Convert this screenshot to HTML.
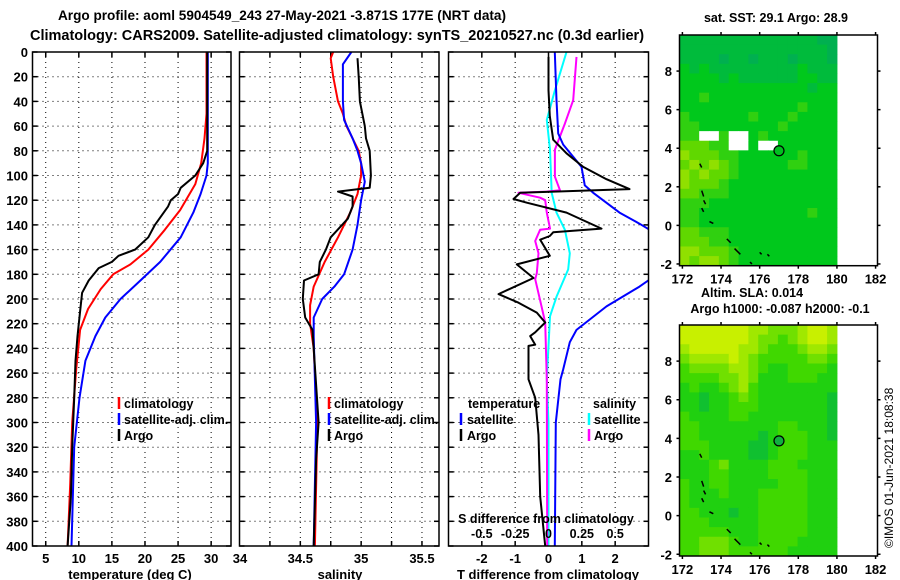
<!DOCTYPE html>
<html><head><meta charset="utf-8"><style>
html,body{margin:0;padding:0;background:#fff;}
svg{display:block;font-family:"Liberation Sans",sans-serif;font-weight:bold;}
</style></head><body>
<svg id="fig" width="900" height="580" viewBox="0 0 900 580" xmlns="http://www.w3.org/2000/svg">
<text x="282" y="20" font-size="13.6" text-anchor="middle">Argo profile: aoml 5904549_243 27-May-2021 -3.871S 177E (NRT data)</text>
<text x="337" y="40" font-size="14.5" text-anchor="middle">Climatology: CARS2009. Satellite-adjusted climatology: synTS_20210527.nc (0.3d earlier)</text>
<g id="p1"></g>
<g id="p2"></g>
<g id="p3"></g>
<g id="m1"></g>
<g id="m2"></g>
<text x="776" y="22" font-size="12.5" text-anchor="middle">sat. SST: 29.1 Argo: 28.9</text>
<text x="752" y="297" font-size="12.5" text-anchor="middle">Altim. SLA: 0.014</text>
<text x="780" y="313" font-size="12.5" text-anchor="middle">Argo h1000: -0.087 h2000: -0.1</text>
<text transform="translate(893,548) rotate(-90)" font-size="12" font-weight="normal">©IMOS 01-Jun-2021 18:08:38</text>
</svg>
<script>
// ---- profile data (depth m, value) ----
const depthTicks = [0,20,40,60,80,100,120,140,160,180,200,220,240,260,280,300,320,340,360,380,400];
const tempClimD = [0,20,50,70,90,107,128,144,160,172,180,192,208,225,257,300,350,400];
const tempClimV = [29.3,29.3,29.3,29.0,28.5,27.6,25.3,23.0,20.5,17.8,15.2,13.3,11.4,10.2,9.6,9.0,8.7,8.3];
const tempSatD = [0,50,90,100,115,130,150,170,185,200,215,230,250,280,320,400];
const tempSatV = [29.5,29.5,29.5,29.3,28.4,27.3,25.4,22.3,19.3,16.3,14.0,12.5,11.0,10.1,9.3,8.9];
const tempArgoD = [0,80,90,100,110,115,120,125,140,150,160,165,170,175,185,195,210,230,250,280,320,360,400];
const tempArgoV = [29.4,29.4,28.8,27.6,25.4,25.0,23.9,23.5,21.5,20.5,18.5,16.0,15.0,13.0,11.5,10.5,10.2,9.8,9.5,9.3,9.0,8.8,8.3];
const salClimD = [0,5,20,40,50,60,80,90,100,115,130,150,170,190,205,220,240,300,400];
const salClimV = [34.77,34.75,34.77,34.81,34.85,34.88,34.98,35.0,35.0,34.97,34.91,34.81,34.70,34.61,34.58,34.58,34.61,34.64,34.62];
const salSatD = [0,10,20,40,55,70,80,90,105,120,140,160,180,190,200,215,230,300,400];
const salSatV = [34.92,34.85,34.85,34.85,34.86,34.93,34.97,35.0,35.03,35.0,34.97,34.93,34.86,34.78,34.68,34.61,34.61,34.63,34.61];
const salArgoD = [5,20,40,60,70,80,100,110,113,117,125,135,150,160,170,180,185,200,215,225,240,300,330,400];
const salArgoV = [34.97,34.98,34.99,35.03,35.04,35.07,35.08,35.07,34.81,34.93,34.93,34.89,34.75,34.71,34.66,34.65,34.53,34.52,34.54,34.6,34.61,34.65,34.63,34.61];
const dTArgoD = [4,31,52,71,82,93,103,111,114,119,122,130,143,146,149,152,165,172,183,196,203,211,219,227,230,237,238,265,280,310,360,400];
const dTArgoV = [0,0,0.04,0.14,0.54,1.04,1.74,2.43,-0.85,-1.05,-0.65,0.54,1.59,0.14,0.04,-0.25,0.04,-0.95,-0.45,-1.5,-0.9,-0.35,-0.1,-0.4,-0.55,-0.4,-0.6,-0.6,-0.4,-0.3,-0.25,-0.1];
const dTSatD = [0,39,66,75,93,108,114,130,139,145,183,190,206,225,235,257,265,300,400];
const dTSatV = [0.19,0.24,0.29,0.44,0.99,1.09,1.34,2.13,2.73,3.1,3.1,2.73,1.74,0.84,0.64,0.44,0.36,0.22,0.19];
const dSSatD = [0,31,55,79,114,130,144,163,176,198,214,265,300,400];
const dSSatV = [0.135,0.048,-0.013,0.011,0.024,0.06,0.123,0.16,0.148,0.061,0.011,-0.013,0,0];
const dSArgoD = [4,39,58,79,101,112,113,114,118,120,130,143,144,153,163,179,184,201,219,265,400];
const dSArgoV = [0.21,0.185,0.123,0.048,0.048,0.086,-0.013,-0.225,-0.063,-0.025,-0.013,0.011,-0.063,-0.1,-0.075,-0.088,-0.1,-0.063,-0.025,-0.013,-0.01];
const tempTicks = [5,10,15,20,25,30];
const salTicks = [34.25,34.5,34.75,35,35.25,35.5];
const salLabels = [34.5,35,35.5];
const dTTicks = [-2,-1,0,1,2];
const dSLabels = ["-0.5","-0.25","0","0.25","0.5"];
const dSLabelVals = [-0.5,-0.25,0,0.25,0.5];
// ---- map data ----
const mapLats = [8,6,4,2,0,-2];
const mapLons = [172,174,176,178,180,182];
const argoLon = 177.0, argoLat = 3.87;
const sstRows = [
"1111111111111100","1111111111111110","1111011011101110","2121111111112111",
"2222121111112211","2222222222222122","2232222222222222","2222222222223222",
"3222222322232222","3322222222322222","33WW3WW232222222","44433WW2WW222222",
"5444332222223222","4545432222233222","5454432222222222","5444322222222222",
"4433322222222222","3332222222222222","3322222222222322","3322222222222222",
"4433322222222222","4443322222222222","5544432222222222","5455432222222222"];
const slaRows = [
"5555555443334554","5555555433234554","4555554432223443","3444454322222332",
"2333344321122221","2222334311122211","1211234211111111","1101123211111110",
"1101122211111110","2111122111111110","2211111111221110","2211111101222110",
"2221111001222111","1121111001222111","1112311112221111","1112211112222111",
"2112211111222111","2111211122222111","2111111122222111","2211101122222111",
"2221111122222111","2222211122222111","2233321122221111","2233322222211111"];
const coastLon = [[172.9,173.0],[173.0,173.1],[173.1,173.2],[173.0,173.1],[173.4,173.6],[174.3,174.5],[174.7,175.0],[175.5,175.6],[176.0,176.1],[176.4,176.5]];
const coastLat = [[3.2,3.0],[1.8,1.5],[1.3,1.1],[0.9,0.7],[0.2,0.1],[-0.7,-0.9],[-1.2,-1.5],[-1.9,-2.0],[-1.4,-1.5],[-1.5,-1.6]];

const NS="http://www.w3.org/2000/svg";
function mk(parent,tag,attrs,txt){const e=document.createElementNS(NS,tag);for(const k in attrs)e.setAttribute(k,attrs[k]);if(txt!==undefined)e.textContent=txt;parent.appendChild(e);return e;}
const Y0=52,Y1=546;
function yD(d){return Y0+d*(Y1-Y0)/400;}

function panel(g,x0,x1,vmin,vmax,name,yLabels){
  const xs=v=>x0+(v-vmin)*(x1-x0)/(vmax-vmin);
  depthTicks.forEach(d=>{
    const y=yD(d);
    if(d>0&&d<400){const l=mk(g,'line',{x1:x0,x2:x1,y1:y,y2:y,stroke:'#000','stroke-width':1,'stroke-dasharray':'1,4'});
    
    }
    const t1=mk(g,'line',{x1:x0,x2:x0+5,y1:y,y2:y,stroke:'#000','stroke-width':1.5});
    
    
    const t2=mk(g,'line',{x1:x1-5,x2:x1,y1:y,y2:y,stroke:'#000','stroke-width':1.5});
    
    
    if(yLabels){const tx=mk(g,'text',{x:28,y:y+5,'font-size':13,'text-anchor':'end'},String(d));
      
      }
  });
  return xs;
}
function xgrid(g,xs,vals,x0,x1){
  vals.forEach(v=>{const x=xs(v);
    const l=mk(g,'line',{x1:x,x2:x,y1:Y0,y2:Y1,stroke:'#000','stroke-width':1,'stroke-dasharray':'1,4'});
    
    
    const t=mk(g,'line',{x1:x,x2:x,y1:Y1-5,y2:Y1,stroke:'#000','stroke-width':1.5});
    
    
    const t2=mk(g,'line',{x1:x,x2:x,y1:Y0,y2:Y0+5,stroke:'#000','stroke-width':1.5});
    
    
  });
}
function xlabels(g,xs,vals,texts){
  vals.forEach((v,i)=>{const t=mk(g,'text',{x:xs(v),y:563,'font-size':13,'text-anchor':'middle'},texts?texts[i]:String(v));
    
    });
}
function series(g,xs,D,V,color,name,w){
  const pts=D.map((d,i)=>xs(V[i]).toFixed(1)+','+yD(d).toFixed(1)).join(' ');
  const p=mk(g,'polyline',{points:pts,fill:'none',stroke:color,'stroke-width':w||2,'stroke-linejoin':'round'});
  
  
}
function frame(g,x0,x1){
  const r=mk(g,'rect',{x:x0,y:Y0,width:x1-x0,height:Y1-Y0,fill:'none',stroke:'#000','stroke-width':1.5});
  
  
}
function legend(g,x,y,color,label,barX){
  const b=mk(g,'line',{x1:barX,x2:barX,y1:y-11,y2:y+1,stroke:color,'stroke-width':2.5});
  
  
  const t=mk(g,'text',{x:x,y:y,'font-size':12.5},label);
  
  
}
function title(g,x,txt){const t=mk(g,'text',{x:x,y:579,'font-size':13,'text-anchor':'middle'},txt);
  
  }

// Panel 1
const g1=document.getElementById('p1');
const xT=panel(g1,32.5,231,3,33,'t',true);
xgrid(g1,xT,tempTicks);
series(g1,xT,tempClimD,tempClimV,'#f00','temp-climatology-line');
series(g1,xT,tempSatD,tempSatV,'#00f','temp-satellite-line');
series(g1,xT,tempArgoD,tempArgoV,'#000','temp-argo-line');
frame(g1,32.5,231);
xlabels(g1,xT,tempTicks);
legend(g1,124,408,'#f00','climatology',119);
legend(g1,124,424,'#00f','satellite-adj. clim.',119);
legend(g1,124,440,'#000','Argo',119);
title(g1,130,'temperature (deg C)');

// Panel 2
const g2=document.getElementById('p2');
const xS=panel(g2,239.5,439,34,35.64,'s',false);
xgrid(g2,xS,salTicks);
series(g2,xS,salClimD,salClimV,'#f00','sal-climatology-line');
series(g2,xS,salSatD,salSatV,'#00f','sal-satellite-line');
series(g2,xS,salArgoD,salArgoV,'#000','sal-argo-line');
frame(g2,239.5,439);
xlabels(g2,xS,salLabels);
{const t=mk(g2,'text',{x:240,y:563,'font-size':13,'text-anchor':'middle'},'34');}
legend(g2,334,408,'#f00','climatology',329);
legend(g2,334,424,'#00f','satellite-adj. clim.',329);
legend(g2,334,440,'#000','Argo',329);
title(g2,340,'salinity');

// Panel 3
const g3=document.getElementById('p3');
const xDT=panel(g3,448.5,648.5,-3,3,'d',false);
const xDS=v=>xDT(v*4);
xgrid(g3,xDT,dTTicks);
const cp=mk(g3,'clipPath',{id:'c3'});mk(cp,'rect',{x:448.5,y:Y0,width:200,height:Y1-Y0});
const gc=mk(g3,'g',{'clip-path':'url(#c3)'});


series(gc,xDS,dSSatD,dSSatV,'#0ff','sal-diff-satellite-line');
series(gc,xDS,dSArgoD,dSArgoV,'#f0f','sal-diff-argo-line');
series(gc,xDT,dTSatD,dTSatV,'#00f','temp-diff-satellite-line');
series(gc,xDT,dTArgoD,dTArgoV,'#000','temp-diff-argo-line');
frame(g3,448.5,648.5);
xlabels(g3,xDT,dTTicks);
{const t=mk(g3,'text',{x:468,y:408,'font-size':12.5},'temperature');}
{const t=mk(g3,'text',{x:593,y:408,'font-size':12.5},'salinity');}
legend(g3,467,424,'#00f','satellite',461);
legend(g3,467,440,'#000','Argo',461);
legend(g3,594,424,'#0ff','satellite',589);
legend(g3,594,440,'#f0f','Argo',589);
{const t=mk(g3,'text',{x:546,y:523,'font-size':12.5,'text-anchor':'middle'},'S difference from climatology');}
dSLabelVals.forEach((v,i)=>{const t=mk(g3,'text',{x:xDS(v),y:538,'font-size':12.5,'text-anchor':'middle'},dSLabels[i]);
  
  });
title(g3,548,'T difference from climatology');

// Maps
const sstColors={'0':'#00b050','1':'#00bb3c','2':'#00c81c','3':'#30d010','4':'#60d800','5':'#90e000','6':'#b0e800','W':'#ffffff'};
const slaColors={'0':'#10c030','1':'#20d010','2':'#40d800','3':'#70e000','4':'#a0e800','5':'#c8f000'};
function map(g,top,bot,rows,colors,name,markerFill){
  const L=679.5,R=877.5,lonMin=171.85,lonMax=182.1,latMax=9.87,latMin=-2.09;
  const xs=lon=>L+(lon-lonMin)*(R-L)/(lonMax-lonMin);
  const ys=lat=>top+(latMax-lat)*(bot-top)/(latMax-latMin);
  const nr=rows.length,nc=rows[0].length;
  const dLat=(latMax-latMin)/nr,dLon=(180-lonMin)/nc;
  rows.forEach((row,r)=>{for(let c=0;c<nc;c++){
    const x=xs(lonMin+c*dLon),y=ys(latMax-r*dLat);
    const cell=mk(g,'rect',{x:x.toFixed(2),y:y.toFixed(2),width:(xs(lonMin+(c+1)*dLon)-x+0.5).toFixed(2),height:(ys(latMax-(r+1)*dLat)-y+0.5).toFixed(2),fill:colors[row[c]]});
    
    
  }});
  coastLon.forEach((lo,i)=>{const l=mk(g,'line',{x1:xs(lo[0]),x2:xs(lo[1]),y1:ys(coastLat[i][0]),y2:ys(coastLat[i][1]),stroke:'#000','stroke-width':1.5});
    
    });
  const c=mk(g,'circle',{cx:xs(argoLon),cy:ys(argoLat),r:5,fill:markerFill,stroke:'#000','stroke-width':1.2});
  
  
  const fr=mk(g,'rect',{x:L,y:top,width:R-L,height:bot-top,fill:'none',stroke:'#000','stroke-width':1.5});
  
  
  mapLats.forEach(la=>{const y=ys(la);
    mk(g,'line',{x1:L-3,x2:L,y1:y,y2:y,stroke:'#000','stroke-width':1.5});
    mk(g,'line',{x1:R,x2:R+3,y1:y,y2:y,stroke:'#000','stroke-width':1.5});
    const t=mk(g,'text',{x:672,y:y+5,'font-size':13,'text-anchor':'end'},String(la));
    
    });
  mapLons.forEach(lo=>{const x=xs(lo);
    mk(g,'line',{x1:x,x2:x,y1:top-3,y2:top,stroke:'#000','stroke-width':1.5});
    mk(g,'line',{x1:x,x2:x,y1:bot,y2:bot+3,stroke:'#000','stroke-width':1.5});
    const t=mk(g,'text',{x:x,y:bot+18,'font-size':13,'text-anchor':'middle'},String(lo));
    
    });
}
map(document.getElementById('m1'),35,265.7,sstRows,sstColors,'sst','#00c020');
map(document.getElementById('m2'),325,556,slaRows,slaColors,'sla','#10b040');
</script>
</body></html>
